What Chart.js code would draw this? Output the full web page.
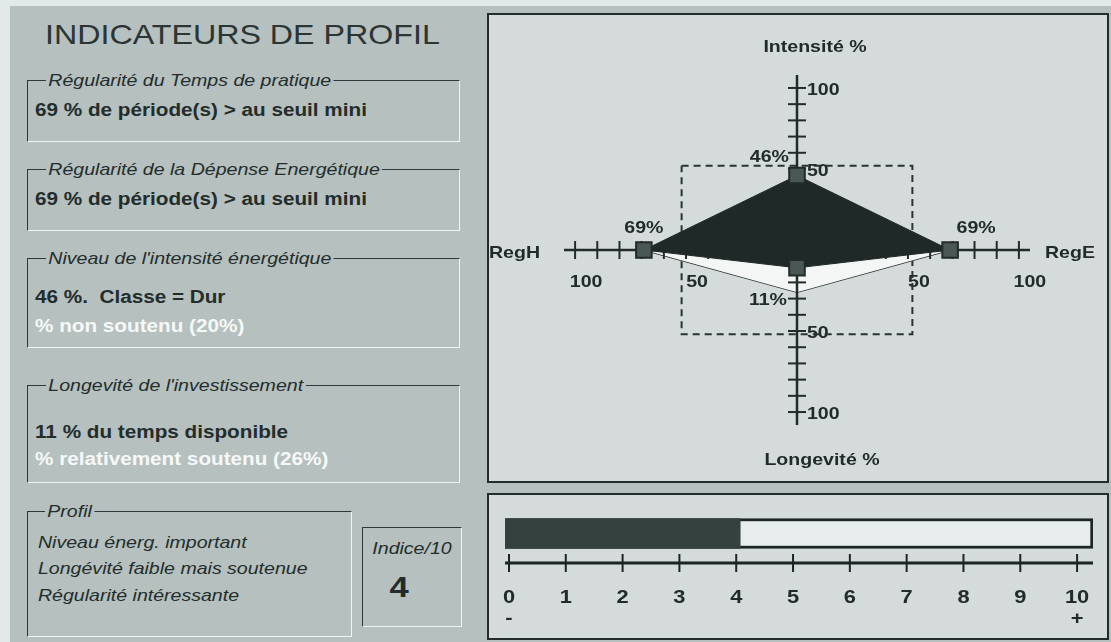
<!DOCTYPE html>
<html lang="fr">
<head>
<meta charset="utf-8">
<title>Indicateurs de profil</title>
<script src="https://cdn.jsdelivr.net/npm/chart.js@4.4.1/dist/chart.umd.min.js"></script>
<style>
  html, body { margin: 0; padding: 0; }
  body { width: 1111px; height: 642px; position: relative; overflow: hidden; background: #e3e8e8;
         font-family: "Liberation Sans", Arial, sans-serif; color: #232d2c; }
  #fond { position: absolute; left: 10px; top: 6px; width: 1101px; height: 636px; background: #b5c0bf; }
  .t { position: absolute; white-space: nowrap; transform: scaleX(1.15); transform-origin: 0 50%; }
  .c { text-align: center; transform-origin: 50% 50%; }
  .leg { font-style: italic; font-size: 17px; line-height: 17px; background: #b5c0bf; padding: 0 2px; }
  .gras { font-weight: bold; font-size: 18px; line-height: 18px; }
  .ital { font-style: italic; font-size: 17px; line-height: 17px; }
  .blanc { color: #f6f8f8; }
  .cadre { position: absolute; box-sizing: border-box; border-top: 1px solid #2e3837; border-left: 1px solid #2e3837;
           border-right: 1px solid #f1f4f4; border-bottom: 1px solid #f1f4f4; }
  .boite { position: absolute; box-sizing: border-box; border: 2px solid #232c2b; background: #d5dbdb; }
  canvas { position: absolute; }
</style>
</head>
<body>
<div id="fond"></div>

<div class="t" style="left:45px;top:21px;font-size:28px;line-height:28px;color:#2b3535;">INDICATEURS DE PROFIL</div>

<!-- cadres de gauche -->
<div class="cadre" style="left:27px;top:80px;width:433px;height:62px;"></div>
<div class="t leg" style="left:46px;top:72px;">Régularité du Temps de pratique</div>
<div class="t gras" style="left:35px;top:101px;">69 % de période(s) &gt; au seuil mini</div>

<div class="cadre" style="left:27px;top:169px;width:433px;height:62px;"></div>
<div class="t leg" style="left:46px;top:161px;">Régularité de la Dépense Energétique</div>
<div class="t gras" style="left:35px;top:190px;">69 % de période(s) &gt; au seuil mini</div>

<div class="cadre" style="left:27px;top:258px;width:433px;height:90px;"></div>
<div class="t leg" style="left:46px;top:250px;">Niveau de l'intensité énergétique</div>
<div class="t gras" style="left:35px;top:288px;">46 %.&nbsp; Classe = Dur</div>
<div class="t gras blanc" style="left:35px;top:317px;">% non soutenu (20%)</div>

<div class="cadre" style="left:27px;top:385px;width:433px;height:98px;"></div>
<div class="t leg" style="left:46px;top:377px;">Longevité de l'investissement</div>
<div class="t gras" style="left:35px;top:423px;">11 % du temps disponible</div>
<div class="t gras blanc" style="left:35px;top:450px;">% relativement soutenu (26%)</div>

<div class="cadre" style="left:27px;top:511px;width:325px;height:126px;"></div>
<div class="t leg" style="left:45px;top:503px;">Profil</div>
<div class="t ital" style="left:38px;top:534px;">Niveau énerg. important</div>
<div class="t ital" style="left:38px;top:560px;">Longévité faible mais soutenue</div>
<div class="t ital" style="left:38px;top:587px;">Régularité intéressante</div>

<div class="cadre" style="left:362px;top:527px;width:100px;height:100px;"></div>
<div class="t ital c" style="left:362px;top:540px;width:100px;">Indice/10</div>
<div class="t c" style="left:349px;top:572px;width:100px;font-weight:bold;font-size:30px;line-height:30px;">4</div>

<!-- graphiques -->
<div class="boite" style="left:487px;top:13px;width:622px;height:470px;"></div>
<canvas id="radar" width="618" height="466" style="left:489px;top:15px;"></canvas>

<div class="boite" style="left:487px;top:493px;width:622px;height:147px;"></div>
<canvas id="jauge" width="618" height="145" style="left:489px;top:493px;"></canvas>

<script>
// ===================== DONNEES =====================
const axesProfil = ['RegH', 'Intensité %', 'RegE', 'Longevité %'];
const valeursProfil = [69, 46, 69, 11];      // % affichés sur chaque axe
const valeursSoutenu = [69, 0, 69, 26];      // partie soutenue (triangle blanc)
const seuilMini = 52;                        // cadre pointillé
const graduations = [10, 20, 30, 40, 50, 60, 70, 80, 90, 100];
const graduationsTexte = [50, 100];
const indice = 4;
const indiceMax = 10;
const graduationsIndice = [0, 1, 2, 3, 4, 5, 6, 7, 8, 9, 10];

// ===================== REGLAGES =====================
const ENCRE = '#222b2a';
const ETIREMENT = 1.15;   // le texte de l'original est étiré en largeur
const POLICE = '"Liberation Sans", Arial, sans-serif';
const BORNE_X = 105, BORNE_Y = 108;
const JAUGE_MIN = -0.07, JAUGE_MAX = 10.28;   // étendue de la règle 0..10

// RegH à gauche, Intensité en haut, RegE à droite, Longevité en bas
const directions = [[-1, 0], [0, 1], [1, 0], [0, -1]];
function versPoint(v, i) {
    return { x: directions[i][0] * v, y: directions[i][1] * v };
}
function versPoints(valeurs) {
    return valeurs.map(versPoint);
}
// moitié haute (RegH, Intensité, RegE) ou basse (RegH, Longevité, RegE)
function moitie(valeurs, iMilieu) {
    return [versPoint(valeurs[0], 0), versPoint(valeurs[iMilieu], iMilieu), versPoint(valeurs[2], 2)];
}

const ticksH = graduations.flatMap(g => [{ x: -g, y: 0 }, { x: g, y: 0 }]);
const ticksV = graduations.flatMap(g => [{ x: 0, y: g }, { x: 0, y: -g }]);
const cadreSeuil = [
    { x: -seuilMini, y: seuilMini }, { x: seuilMini, y: seuilMini },
    { x: seuilMini, y: -seuilMini }, { x: -seuilMini, y: -seuilMini }, { x: -seuilMini, y: seuilMini }
];

function texteEtire(ctx, txt, x, y, align) {
    ctx.save();
    ctx.translate(x, y);
    ctx.scale(ETIREMENT, 1);
    ctx.textAlign = align;
    ctx.textBaseline = 'middle';
    ctx.fillText(txt, 0, 0);
    ctx.restore();
}

// Textes du graphique (graduations, titres d'axes, valeurs)
const textesRadar = {
    id: 'textesRadar',
    beforeDatasetsDraw(chart) {
        const { ctx, scales: { x, y } } = chart;
        const x0 = x.getPixelForValue(0), y0 = y.getPixelForValue(0);
        ctx.save();
        ctx.fillStyle = ENCRE;
        ctx.font = 'bold 17px ' + POLICE;
        graduationsTexte.forEach(g => {
            [g, -g].forEach(v => {
                texteEtire(ctx, String(g), x0 + 10, y.getPixelForValue(v) + 2, 'left');
                texteEtire(ctx, String(g), x.getPixelForValue(v) + 11, y0 + 32, 'center');
            });
        });
        ctx.restore();
    },
    afterDatasetsDraw(chart) {
        const { ctx, chartArea: a, scales: { x, y } } = chart;
        const x0 = x.getPixelForValue(0), y0 = y.getPixelForValue(0);
        ctx.save();
        ctx.fillStyle = ENCRE;
        ctx.font = 'bold 17px ' + POLICE;
        texteEtire(ctx, axesProfil[1], x0 + 18, a.top - 28, 'center');
        texteEtire(ctx, axesProfil[3], x0 + 25, a.bottom + 35, 'center');
        texteEtire(ctx, axesProfil[0], a.left - 24, y0 + 3, 'right');
        texteEtire(ctx, axesProfil[2], a.right + 15, y0 + 3, 'left');
        // position de l'étiquette autour de chaque sommet : dx, dy, alignement
        const places = [[0, -22, 'center'], [-8, -18, 'right'], [26, -22, 'center'], [-10, 32, 'right']];
        versPoints(valeursProfil).forEach((p, i) => {
            const [dx, dy, align] = places[i];
            texteEtire(ctx, valeursProfil[i] + '%', x.getPixelForValue(p.x) + dx, y.getPixelForValue(p.y) + dy, align);
        });
        ctx.restore();
    }
};

new Chart(document.getElementById('radar'), {
    type: 'scatter',
    data: {
        datasets: [
            { // marqueurs carrés
                data: versPoints(valeursProfil),
                pointStyle: 'rect', pointRadius: 11,
                pointBackgroundColor: '#4a5855', pointBorderColor: '#222b2a', pointBorderWidth: 2
            },
            { // profil, moitié haute, remplie jusqu'à la moitié basse
                data: moitie(valeursProfil, 1), showLine: true, fill: '+1',
                backgroundColor: '#1f2928', borderColor: '#1f2928', borderWidth: 1, pointRadius: 0
            },
            {
                data: moitie(valeursProfil, 3), showLine: true,
                borderColor: '#1f2928', borderWidth: 1, pointRadius: 0
            },
            { data: ticksV, pointStyle: 'line', pointRadius: 9, pointRotation: 0, pointBorderColor: ENCRE, pointBorderWidth: 2 },
            { data: ticksH, pointStyle: 'line', pointRadius: 9, pointRotation: 90, pointBorderColor: ENCRE, pointBorderWidth: 2 },
            { data: [{ x: 0, y: -BORNE_Y }, { x: 0, y: BORNE_Y }], showLine: true, borderColor: ENCRE, borderWidth: 2.5, pointRadius: 0 },
            { data: [{ x: -BORNE_X, y: 0 }, { x: BORNE_X, y: 0 }], showLine: true, borderColor: ENCRE, borderWidth: 2.5, pointRadius: 0 },
            { // partie soutenue (blanc)
                data: moitie(valeursSoutenu, 1), showLine: true, fill: '+1',
                backgroundColor: '#f4f6f6', borderColor: '#f4f6f6', borderWidth: 1, pointRadius: 0
            },
            {
                data: moitie(valeursSoutenu, 3), showLine: true,
                borderColor: '#2a3332', borderWidth: 1.5, pointRadius: 0
            },
            { // seuil mini en pointillé
                data: cadreSeuil, showLine: true, borderDash: [7, 5],
                borderColor: '#2a3332', borderWidth: 2, pointRadius: 0
            }
        ]
    },
    options: {
        responsive: false,
        animation: false,
        layout: { padding: { left: 75, right: 77, top: 60, bottom: 56 } },
        elements: { line: { tension: 0 } },
        plugins: { legend: { display: false }, tooltip: { enabled: false } },
        scales: {
            x: { type: 'linear', min: -BORNE_X, max: BORNE_X, display: false },
            y: { type: 'linear', min: -BORNE_Y, max: BORNE_Y, display: false }
        }
    },
    plugins: [textesRadar]
});

// ===================== JAUGE INDICE/10 =====================
const texteJauge = {
    id: 'texteJauge',
    afterDatasetsDraw(chart) {
        const { ctx, chartArea: a, scales: { x } } = chart;
        ctx.save();
        ctx.fillStyle = ENCRE;
        ctx.font = 'bold 19px ' + POLICE;
        graduationsIndice.forEach(v => {
            texteEtire(ctx, String(v), x.getPixelForValue(v), a.bottom + 35, 'center');
        });
        texteEtire(ctx, '-', x.getPixelForValue(graduationsIndice[0]), a.bottom + 56, 'center');
        texteEtire(ctx, '+', x.getPixelForValue(indiceMax), a.bottom + 56, 'center');
        ctx.restore();
    }
};

new Chart(document.getElementById('jauge'), {
    type: 'bar',
    data: {
        labels: ['Indice'],
        datasets: [
            {
                data: [indice], xAxisID: 'xJauge', yAxisID: 'y', grouped: false, barThickness: 30,
                backgroundColor: '#34413f', borderWidth: 0
            },
            {
                data: [indiceMax], xAxisID: 'xJauge', yAxisID: 'y', grouped: false, barThickness: 30,
                backgroundColor: '#e7ecec', borderColor: '#1c2524', borderWidth: 3, borderSkipped: false
            },
            { // graduations de la règle
                type: 'scatter', indexAxis: 'x', xAxisID: 'x', yAxisID: 'yRegle', clip: false,
                data: graduationsIndice.map(v => ({ x: v, y: 0 })),
                pointStyle: 'line', pointRadius: 9, pointRotation: 90,
                pointBorderColor: '#1c2524', pointBorderWidth: 2
            },
            { // trait de la règle
                type: 'scatter', indexAxis: 'x', xAxisID: 'x', yAxisID: 'yRegle', clip: false,
                data: [{ x: JAUGE_MIN, y: 0 }, { x: JAUGE_MAX, y: 0 }], showLine: true,
                borderColor: '#1c2524', borderWidth: 3, pointRadius: 0
            }
        ]
    },
    options: {
        indexAxis: 'y',
        responsive: false,
        animation: false,
        layout: { padding: { left: 16, right: 14, top: 0, bottom: 75 } },
        plugins: { legend: { display: false }, tooltip: { enabled: false } },
        scales: {
            xJauge: { type: 'linear', axis: 'x', min: 0, max: indiceMax, display: false },
            x: { type: 'linear', axis: 'x', min: JAUGE_MIN, max: JAUGE_MAX, display: false },
            y: { type: 'category', display: false },
            // offset:false sinon l'axe hérite du décalage de l'axe index (barres horizontales)
            yRegle: { type: 'linear', axis: 'y', min: 0, max: 1, offset: false, display: false }
        }
    },
    plugins: [texteJauge]
});
</script>
</body>
</html>
